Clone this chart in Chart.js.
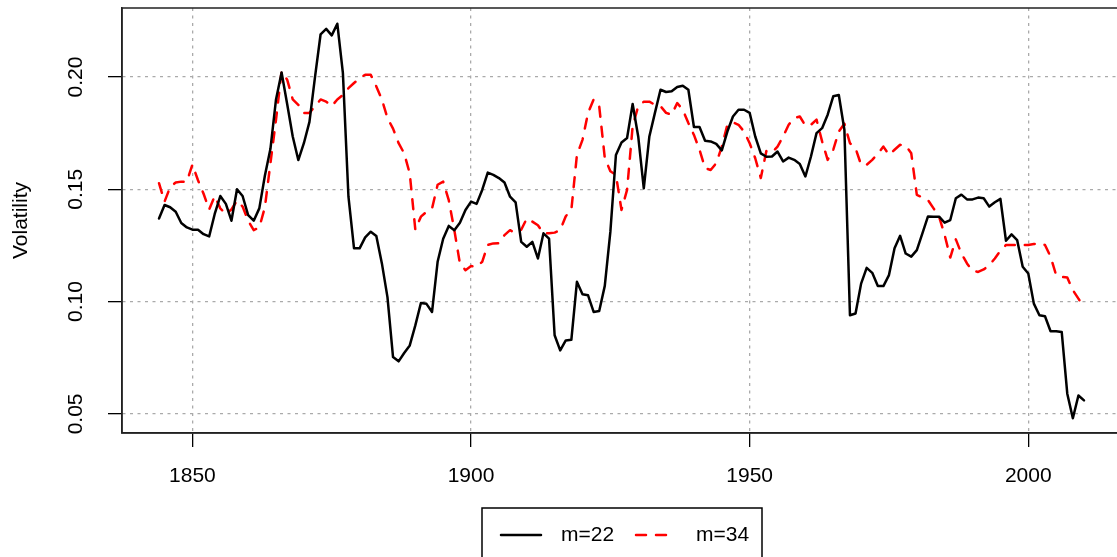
<!DOCTYPE html>
<html>
<head>
<meta charset="utf-8">
<script src="https://cdn.jsdelivr.net/npm/chart.js@4/dist/chart.umd.min.js"></script>
<style>
  html, body { margin: 0; padding: 0; background: #fff; overflow: hidden; }
  canvas { display: block; }
</style>
</head>
<body>
<canvas id="volChart" width="1140" height="557"></canvas>
<script>
// yearly volatility, 1844 .. 2010
const firstYear = 1844;

const vol22 = [
  0.137, 0.143, 0.142, 0.140, 0.135, 0.133,
  0.132, 0.132, 0.130, 0.129, 0.139, 0.147, 0.1435, 0.136, 0.150, 0.147,
  0.1385, 0.136, 0.1415, 0.156, 0.168, 0.190, 0.202, 0.188, 0.1735, 0.163,
  0.1705, 0.180, 0.200, 0.219, 0.2214, 0.2185, 0.2237, 0.2018, 0.1467, 0.1237,
  0.1237, 0.1286, 0.1311, 0.1292, 0.117, 0.102, 0.0753, 0.0734, 0.0771, 0.0805,
  0.0894, 0.0994, 0.099, 0.0954, 0.1177, 0.128, 0.1337, 0.1318, 0.1351, 0.1408,
  0.1445, 0.1435, 0.1497, 0.1574, 0.1564, 0.155, 0.153, 0.1467, 0.1442, 0.1266,
  0.1244, 0.1266, 0.1192, 0.1304, 0.128, 0.085, 0.0783, 0.0827, 0.083, 0.1088,
  0.1033, 0.1028, 0.0954, 0.0958, 0.107, 0.131, 0.1653, 0.1708, 0.1728, 0.188,
  0.1735, 0.1504, 0.1735, 0.184, 0.1943, 0.1933, 0.1936, 0.1955, 0.1961, 0.1943,
  0.1777, 0.1777, 0.1716, 0.1713, 0.1702, 0.1673, 0.1757, 0.1824, 0.1854, 0.1854,
  0.184, 0.1735, 0.166, 0.1645, 0.1646, 0.1668, 0.1624, 0.1641, 0.1631, 0.1613,
  0.1557, 0.1646, 0.175, 0.1772, 0.1832, 0.1914, 0.192, 0.1765, 0.0939, 0.0947,
  0.108, 0.115, 0.1128, 0.1069, 0.1069, 0.1118, 0.1237, 0.1293, 0.1214, 0.120,
  0.1229, 0.1304, 0.1379, 0.1378, 0.1378, 0.1351, 0.1363, 0.146, 0.1476, 0.1455,
  0.1455, 0.1463, 0.146, 0.1423, 0.1442, 0.1457, 0.1271, 0.1299, 0.1274, 0.1155,
  0.1125, 0.0991, 0.0939, 0.0935, 0.0868, 0.0868, 0.0865, 0.059, 0.0481, 0.0582,
  0.056
];

const vol34 = [
  0.1527, 0.1445, 0.151, 0.153, 0.1534, 0.1534,
  0.161, 0.154, 0.148, 0.141, 0.147, 0.1415, 0.139, 0.141, 0.145, 0.1423,
  0.136, 0.1318, 0.133, 0.142, 0.1616, 0.181, 0.2025, 0.1988, 0.190, 0.1876,
  0.184, 0.184, 0.187, 0.190, 0.189, 0.187, 0.190, 0.192, 0.195, 0.1973,
  0.1995, 0.201, 0.201, 0.1958, 0.190, 0.1817, 0.177, 0.1705, 0.166, 0.157,
  0.132, 0.1378, 0.140, 0.1415, 0.152, 0.1534, 0.1452, 0.1318, 0.117, 0.114,
  0.1158, 0.1155, 0.1177, 0.1252, 0.1259, 0.126, 0.1296, 0.1318, 0.1304, 0.132,
  0.137, 0.1356, 0.134, 0.1304, 0.1304, 0.1307, 0.1318, 0.138, 0.1408, 0.1653,
  0.172, 0.184, 0.190, 0.187, 0.164, 0.158, 0.1564, 0.1408, 0.1497, 0.178,
  0.187, 0.189, 0.189, 0.1876, 0.187, 0.184, 0.1832, 0.1884, 0.1854, 0.1795,
  0.1742, 0.1676, 0.1594, 0.1586, 0.1616, 0.169, 0.1787, 0.1798, 0.1787, 0.1757,
  0.1705, 0.1638, 0.155, 0.167, 0.1664, 0.169, 0.1735, 0.1787, 0.1817, 0.1824,
  0.1783, 0.1787, 0.181, 0.1713, 0.1631, 0.1676, 0.1757, 0.1792, 0.1705, 0.1683,
  0.1609, 0.1609, 0.1631, 0.1658, 0.169, 0.1653, 0.1676, 0.1698, 0.1695, 0.166,
  0.1475, 0.1464, 0.1452, 0.1415, 0.1378, 0.1296, 0.1196, 0.1277, 0.1214, 0.117,
  0.1137, 0.1132, 0.1143, 0.1162, 0.1192, 0.1226, 0.1252, 0.1252, 0.1252, 0.1252,
  0.1252, 0.1256, 0.1259, 0.1252, 0.120, 0.1118, 0.111, 0.1107, 0.1051, 0.1013,
  0.0976
];

const xTicks = [1850, 1900, 1950, 2000];
const yTicks = [0.05, 0.10, 0.15, 0.20];
const seriesLabels = ['m=22', 'm=34'];

const years = vol22.map((_, i) => firstYear + i);
const FONT = '"Liberation Sans", Arial, sans-serif';

// R-style box round the plot region
const boxPlugin = {
  id: 'box',
  afterDraw(chart) {
    const { ctx, chartArea: a } = chart;
    ctx.save();
    ctx.strokeStyle = '#222';
    ctx.lineWidth = 1.5;
    ctx.strokeRect(a.left, a.top, a.right - a.left, a.bottom - a.top);
    ctx.restore();
  }
};

// rotated y tick labels (read bottom to top)
const yLabelPlugin = {
  id: 'yLabels',
  afterDraw(chart) {
    const { ctx } = chart;
    const y = chart.scales.y;
    ctx.save();
    ctx.fillStyle = '#000';
    ctx.font = '21px ' + FONT;
    ctx.textAlign = 'center';
    ctx.textBaseline = 'middle';
    yTicks.forEach(v => {
      ctx.save();
      ctx.translate(76, y.getPixelForValue(v));
      ctx.rotate(-Math.PI / 2);
      ctx.fillText(v.toFixed(2), 0, 0);
      ctx.restore();
    });
    ctx.restore();
  }
};

// boxed legend under the plot
const legendPlugin = {
  id: 'boxLegend',
  afterDraw(chart) {
    const { ctx } = chart;
    const ds = chart.data.datasets;
    ctx.save();
    ctx.strokeStyle = '#000';
    ctx.lineWidth = 1.5;
    ctx.strokeRect(482, 508, 280, 80);
    const cy = 535;
    const items = [
      { x0: 501, x1: 541, tx: 561 },
      { x0: 636, x1: 672, tx: 696 }
    ];
    items.forEach((it, i) => {
      ctx.beginPath();
      ctx.strokeStyle = ds[i].borderColor;
      ctx.lineWidth = ds[i].borderWidth;
      ctx.lineCap = 'round';
      ctx.setLineDash(ds[i].borderDash || []);
      ctx.moveTo(it.x0, cy);
      ctx.lineTo(it.x1, cy);
      ctx.stroke();
      ctx.setLineDash([]);
      ctx.fillStyle = '#000';
      ctx.font = '21px ' + FONT;
      ctx.textAlign = 'left';
      ctx.textBaseline = 'middle';
      ctx.fillText(ds[i].label, it.tx, cy);
    });
    ctx.restore();
  }
};

const ctx = document.getElementById('volChart').getContext('2d');
new Chart(ctx, {
  type: 'line',
  data: {
    datasets: [
      {
        label: seriesLabels[0],
        data: years.map((yr, i) => ({ x: yr, y: vol22[i] })),
        borderColor: '#000000',
        borderWidth: 2.5,
        borderJoinStyle: 'round',
        borderCapStyle: 'round',
        pointRadius: 0,
        tension: 0,
        fill: false
      },
      {
        label: seriesLabels[1],
        data: years.map((yr, i) => ({ x: yr, y: vol34[i] })),
        borderColor: '#ff0000',
        borderWidth: 2.5,
        borderDash: [10, 10],
        borderJoinStyle: 'round',
        borderCapStyle: 'round',
        pointRadius: 0,
        tension: 0,
        fill: false
      }
    ]
  },
  options: {
    responsive: false,
    animation: false,
    layout: { padding: { top: 8, right: 19, left: 0, bottom: 0 } },
    plugins: {
      legend: { display: false },
      tooltip: { enabled: false }
    },
    scales: {
      x: {
        type: 'linear',
        min: 1837.36,
        max: 2016.64,
        afterBuildTicks: scale => { scale.ticks = xTicks.map(v => ({ value: v })); },
        afterFit: scale => { scale.height = 124; },
        grid: {
          color: '#aaaaaa',
          lineWidth: 1.3,
          tickColor: '#000',
          tickWidth: 1.3,
          tickLength: 14
        },
        border: { display: true, color: '#222', width: 1.5, dash: [3, 4.5] },
        ticks: {
          color: '#000',
          font: { family: FONT, size: 21 },
          padding: 17,
          maxRotation: 0,
          callback: v => String(v)
        }
      },
      y: {
        type: 'linear',
        min: 0.0415,
        max: 0.2307,
        afterBuildTicks: scale => { scale.ticks = yTicks.map(v => ({ value: v })); },
        afterFit: scale => { scale.width = 122; },
        grid: {
          color: '#aaaaaa',
          lineWidth: 1.3,
          tickColor: '#000',
          tickWidth: 1.3,
          tickLength: 14
        },
        border: { display: true, color: '#222', width: 1.5, dash: [3, 4.5] },
        ticks: { display: false },
        title: {
          display: true,
          text: 'Volatility',
          color: '#000',
          font: { family: FONT, size: 21 },
          padding: { top: 9, bottom: 0 }
        }
      }
    }
  },
  plugins: [boxPlugin, yLabelPlugin, legendPlugin]
});
</script>
</body>
</html>
